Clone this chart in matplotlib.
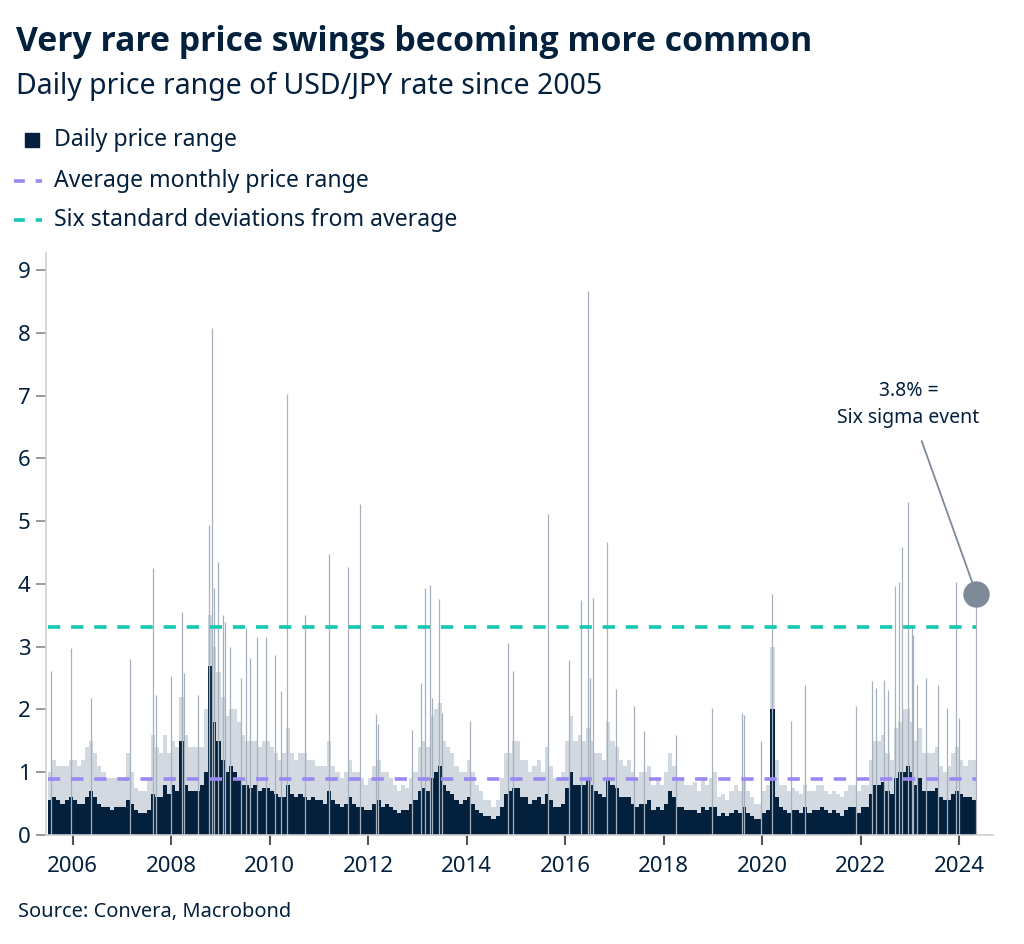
import numpy as np
import matplotlib.pyplot as plt
from matplotlib.lines import Line2D

plt.rcParams['font.family'] = ['Noto Sans', 'DejaVu Sans']

# monthly typical daily range (solid part) and upper haze
# 2005: Jul..Dec, 2006-2023: Jan..Dec, 2024: Jan..Apr
base = {
    2005: [0.55, 0.6, 0.55, 0.5, 0.55, 0.6],
    2006: [0.55, 0.5, 0.5, 0.6, 0.7, 0.6, 0.5, 0.45, 0.45, 0.4, 0.45, 0.45],
    2007: [0.45, 0.55, 0.5, 0.4, 0.35, 0.35, 0.4, 0.65, 0.6, 0.6, 0.8, 0.65],
    2008: [0.8, 0.7, 1.5, 0.8, 0.7, 0.7, 0.7, 0.8, 1.0, 2.7, 1.8, 1.5],
    2009: [1.2, 1.0, 1.1, 1.0, 0.9, 0.8, 0.8, 0.75, 0.8, 0.7, 0.75, 0.75],
    2010: [0.7, 0.65, 0.6, 0.6, 0.8, 0.65, 0.6, 0.65, 0.6, 0.55, 0.6, 0.55],
    2011: [0.55, 0.5, 0.7, 0.55, 0.5, 0.45, 0.5, 0.6, 0.5, 0.45, 0.45, 0.4],
    2012: [0.4, 0.5, 0.55, 0.45, 0.5, 0.45, 0.4, 0.35, 0.4, 0.4, 0.5, 0.55],
    2013: [0.7, 0.75, 0.7, 0.9, 1.0, 1.1, 0.8, 0.7, 0.65, 0.55, 0.5, 0.55],
    2014: [0.6, 0.5, 0.4, 0.35, 0.3, 0.3, 0.25, 0.3, 0.45, 0.65, 0.7, 0.75],
    2015: [0.75, 0.6, 0.6, 0.5, 0.55, 0.6, 0.5, 0.65, 0.55, 0.45, 0.45, 0.5],
    2016: [0.75, 1.0, 0.8, 0.8, 0.8, 0.9, 0.8, 0.7, 0.65, 0.6, 0.9, 0.8],
    2017: [0.75, 0.6, 0.6, 0.6, 0.5, 0.45, 0.5, 0.5, 0.55, 0.4, 0.45, 0.4],
    2018: [0.5, 0.7, 0.6, 0.45, 0.45, 0.4, 0.4, 0.4, 0.35, 0.45, 0.4, 0.45],
    2019: [0.45, 0.3, 0.35, 0.3, 0.35, 0.4, 0.35, 0.45, 0.35, 0.3, 0.25, 0.25],
    2020: [0.35, 0.4, 2.0, 0.6, 0.45, 0.4, 0.35, 0.4, 0.4, 0.35, 0.45, 0.35],
    2021: [0.4, 0.4, 0.45, 0.4, 0.35, 0.4, 0.35, 0.3, 0.4, 0.45, 0.45, 0.35],
    2022: [0.45, 0.45, 0.65, 0.8, 0.8, 0.85, 0.7, 0.65, 0.9, 1.0, 1.0, 1.1],
    2023: [1.0, 0.8, 0.9, 0.7, 0.7, 0.7, 0.75, 0.6, 0.55, 0.55, 0.65, 0.7],
    2024: [0.65, 0.6, 0.6, 0.55],
}
haze = {
    2005: [1.0, 1.2, 1.1, 1.1, 1.1, 1.2],
    2006: [1.2, 1.1, 1.2, 1.4, 1.5, 1.3, 1.1, 1.0, 0.9, 0.9, 0.9, 0.9],
    2007: [0.9, 1.3, 1.0, 0.75, 0.7, 0.7, 0.9, 1.6, 1.4, 1.3, 1.6, 1.3],
    2008: [1.5, 1.4, 2.2, 1.6, 1.4, 1.4, 1.4, 1.4, 2.0, 3.5, 3.0, 2.6],
    2009: [2.2, 1.9, 2.0, 2.0, 1.8, 1.6, 1.5, 1.5, 1.5, 1.4, 1.5, 1.5],
    2010: [1.4, 1.3, 1.2, 1.3, 1.7, 1.3, 1.2, 1.3, 1.3, 1.2, 1.2, 1.1],
    2011: [1.1, 1.1, 1.5, 1.1, 1.0, 0.9, 1.0, 1.2, 1.0, 1.0, 0.9, 0.8],
    2012: [0.9, 1.1, 1.2, 1.0, 1.0, 0.9, 0.8, 0.7, 0.8, 0.75, 0.9, 1.0],
    2013: [1.4, 1.5, 1.4, 1.9, 2.0, 2.1, 1.5, 1.4, 1.3, 1.1, 1.0, 1.0],
    2014: [1.2, 1.0, 0.8, 0.7, 0.55, 0.55, 0.45, 0.55, 0.9, 1.3, 1.3, 1.5],
    2015: [1.5, 1.2, 1.2, 1.0, 1.1, 1.2, 1.0, 1.4, 1.1, 0.9, 0.9, 1.0],
    2016: [1.5, 1.9, 1.5, 1.6, 1.5, 1.7, 1.5, 1.3, 1.3, 1.2, 1.8, 1.5],
    2017: [1.4, 1.2, 1.1, 1.2, 1.0, 0.9, 1.0, 1.0, 1.1, 0.8, 0.9, 0.8],
    2018: [1.0, 1.3, 1.1, 0.9, 0.9, 0.8, 0.8, 0.85, 0.7, 0.9, 0.8, 0.9],
    2019: [1.0, 0.6, 0.65, 0.55, 0.7, 0.8, 0.7, 0.9, 0.7, 0.6, 0.5, 0.5],
    2020: [0.7, 0.8, 3.0, 1.2, 0.8, 0.8, 0.7, 0.75, 0.7, 0.65, 0.8, 0.7],
    2021: [0.7, 0.8, 0.8, 0.7, 0.65, 0.7, 0.65, 0.6, 0.7, 0.8, 0.8, 0.7],
    2022: [0.8, 0.8, 1.2, 1.5, 1.5, 1.6, 1.3, 1.2, 1.7, 1.8, 2.0, 2.0],
    2023: [1.8, 1.5, 1.7, 1.3, 1.3, 1.3, 1.4, 1.1, 1.0, 1.1, 1.3, 1.4],
    2024: [1.2, 1.1, 1.2, 1.2],
}

# single-day spikes (decimal year, range %)
spike_x = [2005.56, 2005.96, 2006.37, 2007.16, 2007.63, 2007.68, 2008.0, 2008.21,
           2008.26, 2008.54, 2008.76, 2008.82, 2008.87, 2008.95, 2009.06, 2009.1,
           2009.19, 2009.42, 2009.52, 2009.6, 2009.75, 2009.92, 2010.1, 2010.23,
           2010.35, 2010.71, 2011.21, 2011.59, 2011.83, 2012.15, 2012.2, 2012.88,
           2013.07, 2013.15, 2013.26, 2013.3, 2013.43, 2013.5, 2014.06, 2014.83,
           2014.94, 2015.64, 2016.08, 2016.32, 2016.47, 2016.57, 2016.5, 2016.84,
           2017.02, 2017.39, 2017.6, 2018.24, 2018.97, 2019.58, 2019.62, 2019.98,
           2020.2, 2020.59, 2020.86, 2021.9, 2022.23, 2022.3, 2022.47, 2022.55,
           2022.7, 2022.78, 2022.84, 2022.95, 2023.03, 2023.05, 2023.15, 2023.32,
           2023.57, 2023.75, 2023.93, 2024.0, 2024.33]
spike_y = [2.62, 2.98, 2.18, 2.8, 4.25, 2.23, 2.54, 3.55,
           2.58, 2.23, 4.94, 8.07, 3.93, 4.35, 3.51, 3.4,
           3.0, 2.5, 3.3, 2.82, 3.16, 3.15, 2.87, 2.29,
           7.02, 3.51, 4.48, 4.27, 5.28, 1.93, 1.77, 1.68,
           2.42, 3.93, 3.98, 2.18, 3.76, 1.94, 1.82, 3.06,
           2.62, 5.12, 2.79, 3.75, 8.66, 3.77, 2.5, 4.66,
           2.32, 2.05, 1.65, 1.6, 2.02, 1.94, 1.91, 1.5,
           3.84, 1.81, 2.39, 2.06, 2.45, 2.34, 2.47, 2.31,
           3.97, 4.03, 4.59, 5.31, 3.35, 3.19, 2.39, 2.5,
           2.39, 2.02, 4.03, 1.86, 3.84]

avg_range = 0.89
six_sigma = 3.32
event_x, event_y = 2024.33, 3.84

navy = '#03203d'

# month centres
xs, b, h = [], [], []
for yr in sorted(base):
    first = 7 if yr == 2005 else 1
    for i, (bv, hv) in enumerate(zip(base[yr], haze[yr])):
        xs.append(yr + (first + i - 0.5) / 12)
        b.append(bv)
        h.append(hv)
xs = np.array(xs)

fig = plt.figure(figsize=(10.24, 9.44), dpi=100)
ax = fig.add_axes([0.0446, 0.1155, 0.9254, 0.617])

ax.bar(xs, h, width=1 / 12, color='#d3d9e0', linewidth=0)
ax.vlines(spike_x, 0, spike_y, color='#a7b1bd', linewidth=0.9)
ax.bar(xs, b, width=1 / 12, color=navy, linewidth=0)

x0, x1 = xs[0] - 1 / 24, xs[-1] + 1 / 24
ax.hlines(avg_range, x0, x1, color='#9b88f3', linewidth=2.6, linestyles=(0, (3.4, 3)))
ax.hlines(six_sigma, x0, x1, color='#14c7b0', linewidth=2.6, linestyles=(0, (3.4, 3)))

ax.set_xlim(2005.45, 2024.69)
ax.set_ylim(0, 9.28)
ax.set_xticks(range(2006, 2025, 2))
ax.set_yticks(range(0, 10))
for s in ['top', 'right']:
    ax.spines[s].set_visible(False)
for s in ['left', 'bottom']:
    ax.spines[s].set_color('#d0d0d0')
    ax.spines[s].set_linewidth(1.2)
ax.tick_params(axis='x', colors='#555555', length=7, width=1.5, labelsize=16,
               labelcolor=navy, pad=8)
ax.tick_params(axis='y', colors='#888888', length=7, width=1.2, labelsize=16,
               labelcolor=navy, pad=4)

# annotation
ax.plot(event_x, event_y, 'o', markersize=18, color='#7e8a97', zorder=5)
ax.annotate('3.8% =\nSix sigma event', xy=(event_x - 0.06, event_y + 0.17),
            xytext=(2022.97, 6.86), ha='center', va='center', fontsize=14,
            color=navy, linespacing=1.45,
            arrowprops=dict(arrowstyle='-', color='#7e8a97', lw=1.3,
                            shrinkA=8, shrinkB=0))

# title, subtitle, legend, source
fig.text(0.0156, 0.9555, 'Very rare price swings becoming more common',
         fontsize=24.3, fontweight='bold', color=navy, va='center',
         family=['Open Sans', 'Noto Sans', 'DejaVu Sans'])
fig.text(0.0156, 0.908, 'Daily price range of USD/JPY rate since 2005',
         fontsize=20.5, color=navy, va='center')

leg_y = [1 - 140 / 944, 1 - 181 / 944, 1 - 220 / 944]
fig.add_artist(Line2D([32 / 1024], [leg_y[0]], marker='s', markersize=10,
                      color=navy, linestyle='none'))
fig.add_artist(Line2D([14 / 1024, 42 / 1024], [leg_y[1]] * 2, color='#9b88f3',
                      linewidth=2.6, linestyle=(0, (3, 3))))
fig.add_artist(Line2D([14 / 1024, 42 / 1024], [leg_y[2]] * 2, color='#14c7b0',
                      linewidth=2.6, linestyle=(0, (3, 3))))
labels = ['Daily price range', 'Average monthly price range',
          'Six standard deviations from average']
for yy, lab in zip(leg_y, labels):
    fig.text(54 / 1024, yy, lab, fontsize=16.6, color=navy, va='center')

fig.text(18 / 1024, 1 - 912 / 944, 'Source: Convera, Macrobond', fontsize=14.4,
         color=navy, va='center')

fig.savefig('out.png', dpi=100)
